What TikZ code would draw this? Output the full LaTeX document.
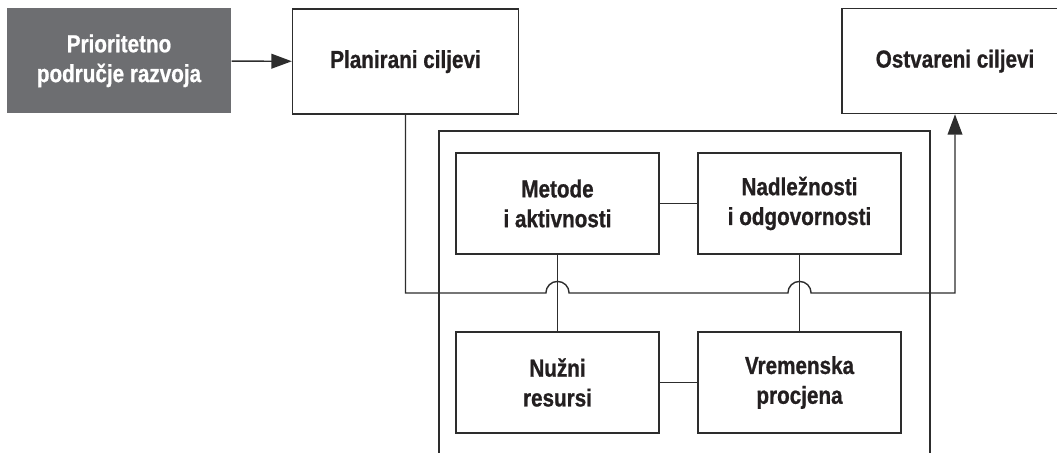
\documentclass[tikz,border=0pt]{standalone}
\usepackage{fontspec}
\setmainfont{Liberation Sans}[FakeStretch=0.84, BoldFeatures={FakeBold=0.8}]
\usepackage{xcolor}
\definecolor{prioGray}{RGB}{109,110,113}
\definecolor{inkBlack}{RGB}{35,31,32}
\definecolor{lineGray}{RGB}{45,45,45}
\usetikzlibrary{arrows.meta, positioning}

\begin{document}
\begin{tikzpicture}[
          base/.style={
              draw=lineGray,
              line width=1pt,
              inner sep=0pt,
              align=center,
              font=\fontsize{17.5}{21.2}\selectfont\bfseries
            },
          darkbox/.style={
              base,
              draw=none,
              fill=prioGray,
              text=white,
              minimum width=5.6cm,
              minimum height=2.62cm
            },
          goalbox/.style={
              base,
              fill=white,
              text=inkBlack,
              minimum width=5.65cm,
              minimum height=2.62cm
            },
          taskbox/.style={
              base,
              fill=white,
              text=inkBlack,
              minimum width=5.075cm,
              minimum height=2.525cm
            },
          link/.style={lineGray, line width=1pt},
          arr/.style={-{Triangle[length=14.5pt, width=10.5pt]}, lineGray, line width=1pt}
        ]
        \clip[use as bounding box] (0,0) rectangle (26.425,-11.325);

        \node[darkbox] (prio) at (2.975,-1.52) {Prioritetno\\područje razvoja};
        \node[goalbox] (plan) at (10.1375,-1.54) {Planirani ciljevi};
        \node[goalbox] (ostv) at (23.875,-1.53) {Ostvareni ciljevi};

        % okvir oko zadataka (otvoren prema dolje)
        \coordinate (frame_sw) at (10.975,-11.325);
        \coordinate (frame_nw) at (10.975,-3.275);
        \coordinate (frame_ne) at (23.25,-3.275);
        \coordinate (frame_se) at (23.25,-11.325);
        \draw[link] (frame_sw) -- (frame_nw) -- (frame_ne) -- (frame_se);

        \node[taskbox] (metode) at (13.9375,-5.0875) {Metode\\i aktivnosti};
        \node[taskbox] (nadl) at (19.9875,-5.0875) {Nadležnosti\\i odgovornosti};
        \node[taskbox] (nuzni) at (13.9375,-9.5625) {Nužni\\resursi};
        \node[taskbox] (vrem) at (19.9875,-9.5625) {Vremenska\\procjena};

        \draw[link] (metode) -- (nadl);
        \draw[link] (nuzni) -- (vrem);
        \draw[link] (metode) -- (nuzni);
        \draw[link] (nadl) -- (vrem);

        \draw[arr] (prio) -- (plan);

        \coordinate (bend) at (plan.south |- 0,-7.325);
        \draw[arr] (plan.south) -- (bend)
          -- ([xshift=-0.29cm]metode.south |- bend) arc[start angle=180, end angle=0, radius=0.29cm]
          -- ([xshift=-0.29cm]nadl.south |- bend) arc[start angle=180, end angle=0, radius=0.29cm]
          -- (ostv.south |- bend) -- (ostv.south);
      \end{tikzpicture}
\end{document}
